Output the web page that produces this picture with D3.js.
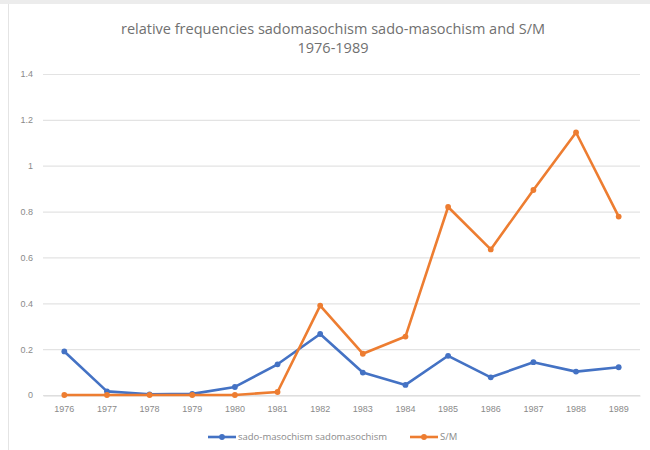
<!DOCTYPE html>
<html>
<head>
<meta charset="utf-8">
<script src="https://cdn.jsdelivr.net/npm/d3@7"></script>
<style>
  body { margin: 0; background: #fff; }
  svg { display: block; font-family: "Open Sans", "Liberation Sans", sans-serif; }
</style>
</head>
<body>
<div id="chart"></div>
<script>
var years = ['1976', '1977', '1978', '1979', '1980', '1981', '1982',
             '1983', '1984', '1985', '1986', '1987', '1988', '1989'];

var sadoMasochism = [0.19, 0.016, 0.003, 0.005, 0.035, 0.134, 0.266,
                     0.098, 0.044, 0.171, 0.077, 0.143, 0.102, 0.121];

var sM = [0, 0, 0, 0, 0, 0.013, 0.39,
          0.18, 0.255, 0.82, 0.635, 0.894, 1.145, 0.778];

var yTicks = [0, 0.2, 0.4, 0.6, 0.8, 1, 1.2, 1.4];

var seriesNames = ['sado-masochism sadomasochism', 'S/M'];
var seriesColors = ['#4472C4', '#ED7D31'];

var width = 650, height = 450;
var margin = { top: 74, right: 10, bottom: 55, left: 43 };

var svg = d3.select('#chart').append('svg')
  .attr('width', width)
  .attr('height', height);

// grey frame like the screenshot edge
svg.append('rect')
  .attr('x', 0).attr('y', 0)
  .attr('width', width).attr('height', 4)
  .attr('fill', '#ececec');
svg.append('line')
  .attr('x1', 8.5).attr('x2', 8.5)
  .attr('y1', 4).attr('y2', height)
  .attr('stroke', '#e4e4e4');

var x = d3.scaleBand()
  .domain(years)
  .range([margin.left, width - margin.right]);

var y = d3.scaleLinear()
  .domain([0, 1.4])
  .range([395, margin.top]);

// gridlines
svg.append('g')
  .selectAll('line')
  .data(yTicks)
  .enter()
  .append('line')
  .attr('x1', margin.left)
  .attr('x2', width - margin.right)
  .attr('y1', function(d) { return y(d) + 0.5 })
  .attr('y2', function(d) { return y(d) + 0.5 })
  .attr('stroke', '#e3e3e3')
  .attr('stroke-width', 1.2);

// y labels
var yAxis = svg.append('g')
  .attr('transform', 'translate(' + (margin.left - 10) + ',0)')
  .call(d3.axisLeft(y).tickValues(yTicks).tickSize(0).tickPadding(0)
    .tickFormat(function(d) { return String(d) }));
yAxis.select('.domain').remove();
yAxis.selectAll('text')
  .attr('fill', '#8a8a8a')
  .style('font-size', '9px');

// x labels
var xAxis = svg.append('g')
  .attr('transform', 'translate(0,' + (y(0) + 0.5) + ')')
  .call(d3.axisBottom(x).tickSize(0).tickPadding(10));
xAxis.select('.domain').attr('stroke', '#d9d9d9');
xAxis.selectAll('text')
  .attr('fill', '#8a8a8a')
  .style('font-size', '9px');

var line = d3.line()
  .x(function(d, i) { return x(years[i]) + x.bandwidth() / 2 })
  .y(function(d) { return y(d) });

[sadoMasochism, sM].forEach(function(values, k) {
  var g = svg.append('g');
  g.append('path')
    .datum(values)
    .attr('fill', 'none')
    .attr('stroke', seriesColors[k])
    .attr('stroke-width', 2.6)
    .attr('stroke-linejoin', 'round')
    .attr('d', line);
  g.selectAll('circle')
    .data(values)
    .enter()
    .append('circle')
    .attr('cx', function(d, i) { return x(years[i]) + x.bandwidth() / 2 })
    .attr('cy', function(d) { return y(d) })
    .attr('r', 2.9)
    .attr('fill', seriesColors[k]);
});

// title
var title = svg.append('text')
  .attr('x', 333)
  .attr('y', 34)
  .attr('text-anchor', 'middle')
  .attr('fill', '#707070')
  .style('font-size', '14.5px');
title.append('tspan').attr('x', 333).text('relative frequencies sadomasochism  sado-masochism and S/M');
title.append('tspan').attr('x', 333).attr('dy', 19).text('1976-1989');

// legend
var legendX = [208, 410];
var legend = svg.append('g');
seriesNames.forEach(function(name, k) {
  var lg = legend.append('g')
    .attr('transform', 'translate(' + legendX[k] + ',437)');
  lg.append('line')
    .attr('x1', 0).attr('x2', 28)
    .attr('stroke', seriesColors[k])
    .attr('stroke-width', 2.6);
  lg.append('circle')
    .attr('cx', 14).attr('r', 2.9)
    .attr('fill', seriesColors[k]);
  lg.append('text')
    .attr('x', 30)
    .attr('dy', '0.35em')
    .attr('fill', '#8a8a8a')
    .style('font-size', '9.5px')
    .text(name);
});
</script>
</body>
</html>
